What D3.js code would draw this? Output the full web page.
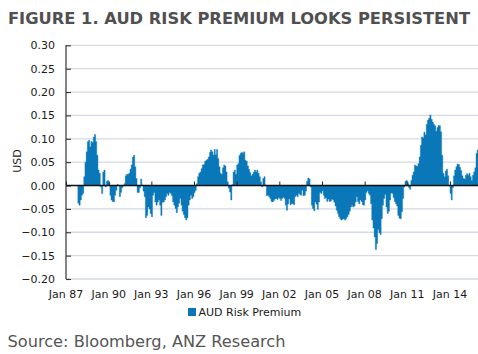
<!DOCTYPE html>
<html><head><meta charset="utf-8">
<script src="https://cdn.jsdelivr.net/npm/d3@7/dist/d3.min.js"></script>
<style>body{margin:0;background:#fff}svg{display:block}</style>
</head><body><svg id="c" width="478" height="354"></svg>
<script>
const titleText = "FIGURE 1. AUD RISK PREMIUM LOOKS PERSISTENT";
const sourceText = "Source: Bloomberg, ANZ Research";
const seriesName = "AUD Risk Premium";
const yAxisTitle = "USD";
const yTicks = [-0.20, -0.15, -0.10, -0.05, 0.00, 0.05, 0.10, 0.15, 0.20, 0.25, 0.30];
const xTickLabels = ["Jan 87","Jan 90","Jan 93","Jan 96","Jan 99","Jan 02","Jan 05","Jan 08","Jan 11","Jan 14"];
const xTickYears = [1987,1990,1993,1996,1999,2002,2005,2008,2011,2014];
const firstMonth = [1987, 10]; // Nov 1987 (month index 0-based)

// monthly values, Nov 1987 - Dec 2015
const vals1987_1992 = [
 -0.038,-0.042,-0.031,-0.021,-0.017,0.019,0.05,0.072,0.094,0.097,
 0.083,0.094,0.092,0.104,0.109,0.094,0.065,0.033,0.026,-0.003,
 -0.017,0.029,0.033,-0.003,0.009,0.011,0.006,-0.021,-0.031,-0.034,
 -0.035,-0.021,-0.01,0.002,0.001,-0.024,-0.015,-0.005,-0.001,0.004,
 0.021,0.024,0.024,0.026,0.035,0.044,0.061,0.065,0.04,0.015,
 -0.015,-0.015,-0.005,0.014,0.001,-0.012,-0.024,-0.069,-0.064,-0.046];
const vals1992_1998 = [
 -0.05,-0.06,-0.067,-0.021,-0.015,-0.035,-0.042,-0.035,-0.031,-0.042,
 -0.064,-0.036,-0.035,-0.031,-0.024,-0.017,-0.021,-0.015,-0.017,-0.022,
 -0.035,-0.042,-0.049,-0.058,-0.046,-0.038,-0.028,-0.042,-0.055,-0.062,
 -0.069,-0.074,-0.069,-0.042,-0.031,-0.021,-0.028,-0.024,-0.015,-0.01,
 0.004,0.019,0.026,0.029,0.036,0.044,0.045,0.052,0.054,0.056,
 0.061,0.071,0.076,0.072,0.065,0.077,0.066,0.077,0.058,0.04,
 0.026,0.024,0.038,0.044,0.042,0.029,0.008,-0.006,-0.014,-0.031,
 0.002];
const vals1998_2004 = [
 0.029,0.033,0.024,0.044,0.047,0.064,0.069,0.071,0.069,
 0.072,0.054,0.052,0.042,0.035,0.028,0.021,0.024,0.029,0.033,
 0.029,0.033,0.026,0.019,0.008,-0.003,0.015,0.019,0.001,-0.022,
 -0.021,-0.024,-0.028,-0.034,-0.035,-0.032,-0.029,-0.028,-0.03,-0.026,
 -0.028,-0.032,-0.028,-0.025,-0.028,-0.042,-0.053,-0.039,-0.029,-0.041,
 -0.039,-0.039,-0.041,-0.024,-0.021,-0.024,-0.017,-0.019,-0.021,-0.01,
 -0.022,-0.021,-0.012,0.009,0.016,0.014,-0.003,-0.042,-0.049,-0.054,
 -0.035];
const vals2004_2010 = [
 -0.04,-0.051,-0.035,-0.015,-0.017,-0.011,-0.021,-0.028,-0.026,
 -0.034,-0.029,-0.034,-0.033,-0.029,-0.031,-0.036,-0.044,-0.053,-0.06,
 -0.067,-0.071,-0.074,-0.072,-0.071,-0.074,-0.071,-0.067,-0.062,-0.055,
 -0.046,-0.042,-0.046,-0.044,-0.035,-0.024,-0.034,-0.039,-0.031,-0.034,
 -0.041,-0.042,-0.031,-0.015,-0.011,-0.017,-0.021,-0.039,-0.074,-0.091,
 -0.11,-0.137,-0.124,-0.094,-0.101,-0.105,-0.071,-0.042,-0.028,-0.019,
 -0.046,-0.06,-0.055,-0.031,-0.016,-0.017,-0.026,-0.034,-0.039,-0.044,
 -0.064];
const vals2010_2015 = [
 -0.07,-0.071,-0.056,-0.028,-0.003,0.009,0.011,0.004,-0.004,
 -0.008,0.011,0.022,0.029,0.044,0.042,0.041,0.047,0.061,0.086,
 0.104,0.102,0.114,0.108,0.131,0.14,0.144,0.151,0.142,0.136,
 0.131,0.128,0.116,0.124,0.129,0.128,0.115,0.065,0.026,0.019,
 0.031,0.035,0.021,-0.001,-0.017,-0.031,-0.005,0.021,0.033,0.04,
 0.046,0.045,0.039,0.032,0.021,0.015,0.014,0.022,0.025,0.022,
 0.026,0.019,0.011,0.022,0.029,0.038,0.069,0.076];

const values = [].concat(vals1987_1992, vals1992_1998, vals1998_2004, vals2004_2010, vals2010_2015);
const data = values.map((v, i) => ({date: d3.timeMonth.offset(new Date(firstMonth[0], firstMonth[1], 1), i), value: v}));
// closing point so the last month's step has width
const stepData = data.concat([{date: d3.timeMonth.offset(data[data.length-1].date, 1), value: data[data.length-1].value}]);

const svg = d3.select("#c");
const font = "'DejaVu Sans', Verdana, sans-serif";
const blue = "#0a78b8";

const x = d3.scaleTime().domain([new Date(1987,0,1), new Date(2016,0,1)]).range([66, 478.4]);
const y = d3.scaleLinear().domain([-0.2, 0.3]).range([279, 45.3]);

// gridlines
svg.append("g").selectAll("line").data(yTicks.filter(t => Math.abs(t) > 1e-9)).join("line")
  .attr("x1", 66).attr("x2", 478).attr("y1", d => y(d)).attr("y2", d => y(d))
  .attr("stroke", "#d3dae1").attr("stroke-width", 1.3);

// series as stepped columns (one solid shape, no seams)
const area = d3.area().curve(d3.curveStepAfter)
  .x(d => x(d.date)).y0(y(0)).y1(d => y(d.value));
svg.append("path").datum(stepData).attr("d", area).attr("fill", blue)
  .attr("stroke", blue).attr("stroke-width", 0.4);

// left axis
const yAxis = d3.axisLeft(y).tickValues(yTicks).tickSize(-5).tickPadding(11)
  .tickFormat(d3.format(".2f"));
const ga = svg.append("g").attr("transform", "translate(66,0)").call(yAxis);
ga.select(".domain").attr("stroke", "#333").attr("stroke-width", 1.2).attr("d", `M0,${y(0.3)}V${y(-0.2)}`);
ga.selectAll(".tick line").attr("stroke", "#333").attr("stroke-width", 1.1);
ga.selectAll(".tick text").attr("font-family", font).attr("font-size", 11).attr("fill", "#1a1a1a");

// zero line with category ticks
const zx = d3.axisBottom(x).tickValues(xTickYears.map(yr => new Date(yr,0,1)))
  .tickSize(-4).tickFormat("");
const gz = svg.append("g").attr("transform", `translate(0,${y(0)})`).call(zx);
gz.select(".domain").attr("stroke", "#111").attr("stroke-width", 1.5).attr("d", `M66,0H478`);
gz.selectAll(".tick line").attr("stroke", "#222").attr("stroke-width", 1);

// x labels
svg.append("g").selectAll("text").data(xTickYears).join("text")
  .attr("x", (d) => x(new Date(d,0,1))).attr("y", 298)
  .attr("text-anchor", "middle").attr("font-family", font).attr("font-size", 11).attr("fill", "#1a1a1a")
  .text((d, i) => xTickLabels[i]);

// y axis title
svg.append("text").attr("transform", "translate(20.5,161) rotate(-90)")
  .attr("text-anchor", "middle").attr("font-family", font).attr("font-size", 11).attr("fill", "#1a1a1a")
  .text(yAxisTitle);

// legend
svg.append("rect").attr("x", 188).attr("y", 308).attr("width", 8).attr("height", 8).attr("fill", blue);
svg.append("text").attr("x", 198.5).attr("y", 316).attr("font-family", font).attr("font-size", 11).attr("fill", "#1a1a1a")
  .text(seriesName);

// title
svg.append("text").attr("x", 8).attr("y", 24).attr("font-family", font).attr("font-weight", "bold")
  .attr("font-size", 15.5).attr("fill", "#505050").attr("textLength", 462).attr("lengthAdjust", "spacingAndGlyphs")
  .text(titleText);

// source
svg.append("text").attr("x", 7.5).attr("y", 346.5).attr("font-family", font)
  .attr("font-size", 16).attr("fill", "#555").attr("textLength", 278).attr("lengthAdjust", "spacingAndGlyphs")
  .text(sourceText);
</script></body></html>
